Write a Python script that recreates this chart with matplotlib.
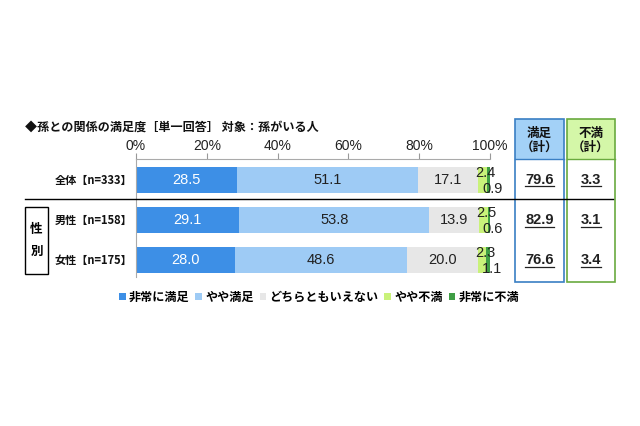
import matplotlib
matplotlib.use("Agg")
import matplotlib.pyplot as plt
from matplotlib.patches import Rectangle, Patch
from matplotlib.lines import Line2D
import numpy as np

plt.rcParams['font.family'] = ['Noto Sans CJK JP', 'DejaVu Sans']

# ---- data ----
title = "◆孫との関係の満足度［単一回答］ 対象：孫がいる人"
categories = ["全体【n=333】", "男性【n=158】", "女性【n=175】"]
series_names = ["非常に満足", "やや満足", "どちらともいえない", "やや不満", "非常に不満"]
very_satisfied = [28.5, 29.1, 28.0]
somewhat_satisfied = [51.1, 53.8, 48.6]
neutral = [17.1, 13.9, 20.0]
somewhat_dissatisfied = [2.4, 2.5, 2.3]
very_dissatisfied = [0.9, 0.6, 1.1]
satisfied_total = [79.6, 82.9, 76.6]
dissatisfied_total = [3.3, 3.1, 3.4]
xticks = [0, 20, 40, 60, 80, 100]
xtick_labels = ["0%", "20%", "40%", "60%", "80%", "100%"]
group_label = "性\n別"

colors = ["#3d8fe6", "#9ecbf5", "#e7e7e7", "#c9f27a", "#3f9e45"]
text_colors = ["white", "#222222", "#222222", "#222222", "#222222"]

W, H = 640, 426
fig = plt.figure(figsize=(W / 100, H / 100), dpi=100)
fig.patch.set_facecolor("white")

def fx(px):
    return px / W

def fy(py):
    return 1 - py / H

ax_left, ax_right, ax_top, ax_bottom = 136, 490, 159, 277
ax = fig.add_axes([fx(ax_left), fy(ax_bottom), fx(ax_right - ax_left), (ax_bottom - ax_top) / H])

y = np.arange(len(categories))
bar_h = 0.66
series = [very_satisfied, somewhat_satisfied, neutral, somewhat_dissatisfied, very_dissatisfied]
left = np.zeros(len(categories))
num_font = ["Liberation Sans"]
for i, (vals, c) in enumerate(zip(series, colors)):
    vals = np.array(vals)
    ax.barh(y, vals, left=left, height=bar_h, color=c, edgecolor="none", label=series_names[i])
    for j, v in enumerate(vals):
        cx = left[j] + v / 2
        if i < 3:
            ax.text(cx, y[j], f"{v:.1f}", ha="center", va="center", fontsize=10.5,
                    color=text_colors[i], family=num_font)
        elif i == 3:
            ax.text(cx + 0.9, y[j] - 0.17, f"{v:.1f}", ha="center", va="center", fontsize=10.5,
                    color="#222222", family=num_font)
        else:
            ax.text(cx + 1.2, y[j] + 0.23, f"{v:.1f}", ha="center", va="center", fontsize=10.5,
                    color="#222222", family=num_font)
    left = left + vals

ax.set_xlim(0, 100)
ax.set_ylim(2.425, -0.525)
ax.xaxis.tick_top()
ax.set_xticks(xticks)
ax.set_xticklabels(xtick_labels, fontsize=10, family=num_font)
ax.tick_params(axis="x", direction="out", length=4, pad=0.5, color="#999999", labelcolor="#222222")
ax.set_yticks([])
for s in ["right", "bottom"]:
    ax.spines[s].set_visible(False)
for s in ["left", "top"]:
    ax.spines[s].set_color("#aaaaaa")
    ax.spines[s].set_linewidth(0.8)
ax.patch.set_alpha(0)

# category labels
for j, cat in enumerate(categories):
    ax.text(-1.0, y[j], cat, ha="right", va="center", fontsize=8, fontweight="bold", color="#111111")

# title
fig.text(fx(25), fy(127), title, ha="left", va="center", fontsize=8.7, fontweight="bold", color="#111111")

# separator line
fig.add_artist(Line2D([fx(25), fx(613)], [fy(199), fy(199)], transform=fig.transFigure,
                      color="black", lw=1.0))

# group box
fig.add_artist(Rectangle((fx(25), fy(274)), fx(48) - fx(25), fy(207) - fy(274),
                         transform=fig.transFigure, fill=False, edgecolor="black", lw=1.0))
fig.text(fx(36.5), fy(240.5), group_label, ha="center", va="center", fontsize=9,
         fontweight="bold", linespacing=1.8)

# right summary boxes
boxes = [
    (515, 564, "満足\n（計）", "#a3d1f7", "#3a7fc4", satisfied_total),
    (567, 615, "不満\n（計）", "#d4f7a8", "#6aaa3f", dissatisfied_total),
]
row_px = [180, 220.5, 260.5]
value_texts = []
for x0, x1, head, hc, ec, vals in boxes:
    fig.add_artist(Rectangle((fx(x0), fy(159)), fx(x1 - x0), fy(119) - fy(159),
                             transform=fig.transFigure, facecolor=hc, edgecolor="none"))
    fig.add_artist(Rectangle((fx(x0), fy(282)), fx(x1 - x0), fy(119) - fy(282),
                             transform=fig.transFigure, fill=False, edgecolor=ec, lw=1.2))
    fig.add_artist(Line2D([fx(x0), fx(x1)], [fy(159), fy(159)], transform=fig.transFigure,
                          color=ec, lw=1.0))
    fig.text(fx((x0 + x1) / 2), fy(140.5), head, ha="center", va="center", fontsize=9,
             fontweight="bold", linespacing=1.15, color="#111111")
    for v, py in zip(vals, row_px):
        t = fig.text(fx((x0 + x1) / 2), fy(py), f"{v:.1f}", ha="center", va="center",
                     fontsize=10.5, fontweight="bold", color="#222222", family=num_font)
        value_texts.append(t)

# underlines below the summary values
renderer = fig.canvas.get_renderer()
inv = fig.transFigure.inverted()
for t in value_texts:
    bb = t.get_window_extent(renderer=renderer)
    (xa, ya), (xb, yb) = inv.transform([(bb.x0, bb.y0), (bb.x1, bb.y1)])
    uy = ya + 1.0 / H
    fig.add_artist(Line2D([xa, xb], [uy, uy], transform=fig.transFigure, color="#222222", lw=0.9))

# legend
handles = [Patch(facecolor=c, edgecolor="none") for c in colors]
leg = fig.legend(handles, series_names, loc="center", bbox_to_anchor=(fx(319), fy(297)),
                 ncol=5, frameon=False, handlelength=0.55, handleheight=0.55,
                 handletextpad=0.25, columnspacing=0.5, borderpad=0,
                 prop={"size": 8.7, "weight": "bold"})

fig.savefig("out.png", dpi=100, facecolor="white")
